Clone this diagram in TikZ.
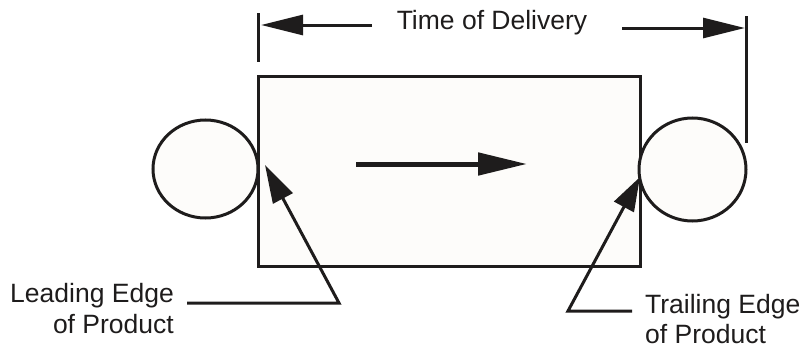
\documentclass[tikz,border=0pt]{standalone}
\usepackage{fontspec}
\setmainfont{Liberation Sans}
\usetikzlibrary{arrows.meta,shapes.geometric}
\definecolor{paper}{RGB}{253,252,250}
\definecolor{ink}{RGB}{30,28,28}
\begin{document}
\begin{tikzpicture}[x=1pt,y=-1pt,
  ln/.style={line width=3pt,draw=ink},
  lbl/.style={font=\fontsize{26.5}{31}\selectfont,text=ink,inner sep=0pt},
  bigtip/.style={-{Triangle[length=42pt,width=20pt]}},
  midtip/.style={-{Triangle[length=49pt,width=22pt]}},
  edgetip/.style={-{Triangle[length=#1,width=22pt]}}]
\useasboundingbox (0,0) rectangle (801,348);
% product
\node[ln,draw,fill=paper,minimum width=382pt,minimum height=190pt,inner sep=0pt,outer sep=0pt] (prod) at (449,171) {};
% rollers
\node[ln,draw,ellipse,fill=paper,minimum width=105pt,minimum height=98pt,inner sep=0pt] (rollL) at (205.5,169) {};
\node[ln,draw,ellipse,fill=paper,minimum width=107pt,minimum height=103pt,inner sep=0pt] (rollR) at (692.5,169.5) {};
% dimension ticks
\coordinate (tickLa) at (258,13);
\coordinate (tickLb) at (258,62);
\coordinate (tickRa) at (746,16);
\coordinate (tickRb) at (746,143);
\draw[ln] (tickLa) -- (tickLb);
\draw[ln] (tickRa) -- (tickRb);
% title
\node[lbl,anchor=base] (title) at (492,29) {Time of Delivery};
\coordinate (dimLs) at (372,25);
\coordinate (dimLe) at (261,25);
\coordinate (dimRs) at (622,28);
\coordinate (dimRe) at (745,28);
\draw[ln,bigtip] (dimLs) -- (dimLe);
\draw[ln,bigtip] (dimRs) -- (dimRe);
% movement arrow
\coordinate (movS) at (356,164);
\coordinate (movE) at (527,164);
\draw[ln,line width=5pt,midtip] (movS) -- (movE);
% labels
\node[lbl,anchor=base east] (leadA) at (174,302) {Leading Edge};
\node[lbl,anchor=base east] (leadB) at (174,333) {of Product};
\node[lbl,anchor=base west] (trailA) at (645,313) {Trailing Edge};
\node[lbl,anchor=base west] (trailB) at (645,343) {of Product};
% leader lines
\coordinate (leadH) at (187,303);
\coordinate (leadK) at (339,303);
\coordinate (leadT) at (265,165);
\draw[ln,edgetip=38pt] (leadH) -- (leadK) -- (leadT);
\coordinate (trailH) at (632,311);
\coordinate (trailK) at (568,311);
\coordinate (trailT) at (640,177);
\draw[ln,edgetip=34pt] (trailH) -- (trailK) -- (trailT);
\end{tikzpicture}
\end{document}
